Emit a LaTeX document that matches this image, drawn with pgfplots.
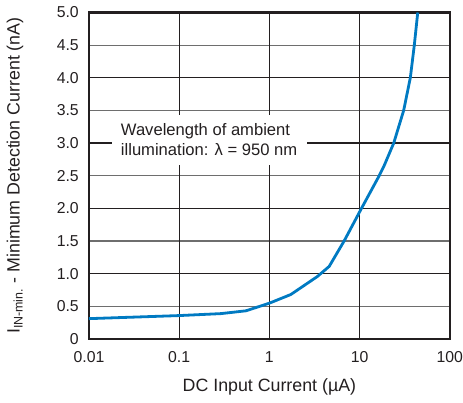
\documentclass[border=0pt]{standalone}
\usepackage{fontspec}
\setmainfont{Liberation Sans}
\usepackage{pgfplots}
\pgfplotsset{compat=1.18}
\definecolor{curveblue}{RGB}{0,122,194}
\definecolor{halfgrid}{RGB}{110,110,110}
\definecolor{ink}{RGB}{35,31,32}
\begin{document}
\begin{tikzpicture}
\begin{axis}[
  scale only axis,
  width=361pt, height=326.5pt,
  xmode=log, log basis x=10,
  xmin=0.01, xmax=100, ymin=0, ymax=5,
  xtick={0.01,0.1,1,10,100},
  xticklabels={0.01,0.1,1,10,100},
  xminorticks=false,
  ytick={0,0.5,1,1.5,2,2.5,3,3.5,4,4.5,5},
  yticklabels={0,0.5,1.0,1.5,2.0,2.5,3.0,3.5,4.0,4.5,5.0},
  major tick length=0pt,
  tick label style={font=\fontsize{15.8}{18}\selectfont, text=ink, inner sep=0pt},
  xticklabel style={anchor=north, yshift=-12.5pt},
  yticklabel style={anchor=east, xshift=-10pt},
  /pgf/number format/assume math mode=true,
  xmajorgrids=true,
  ymajorgrids=true,
  major grid style={halfgrid, line width=1.1pt},
  extra y ticks={1,2,3,4},
  extra y tick labels={},
  extra y tick style={major grid style={ink, line width=1.3pt}},
  extra x ticks={0.1,1,10},
  extra x tick labels={},
  extra x tick style={major grid style={ink, line width=1.3pt}},
  axis line style={line width=2.2pt, ink},
  xlabel={DC Input Current (µA)},
  ylabel={I\textsubscript{IN-min.} - Minimum Detection Current (nA)},
  label style={font=\fontsize{17.8}{20}\selectfont, text=ink},
  xlabel style={at={(axis description cs:0.5,-0.147)}, anchor=center},
  ylabel style={at={(axis description cs:-0.205,0.5)}, anchor=center},
  clip=false,
]
\addplot[curveblue, line width=2.8pt, line join=round] coordinates {
(0.01,0.31)
(0.1,0.357)
(0.29,0.387)
(0.55,0.43)
(1.0,0.547)
(1.73,0.68)
(3.4,0.955)
(4.6,1.11)
(6.74,1.5)
(10.5,2.0)
(16.5,2.5)
(18.8,2.66)
(23.9,3.0)
(30.8,3.5)
(36.5,4.0)
(40.4,4.5)
(44.1,5.0)
};
\node[fill=white, align=left, inner sep=0pt, minimum width=195pt, minimum height=50pt,
  font=\fontsize{16.6}{19.5}\selectfont, text=ink]
  at (axis cs:0.2148,3.052) {Wavelength of ambient\\illumination: λ = 950 nm};
\path (rel axis cs:-0.2465,-0.1963) rectangle (rel axis cs:1.036,1.0383);
\end{axis}
\end{tikzpicture}
\end{document}
